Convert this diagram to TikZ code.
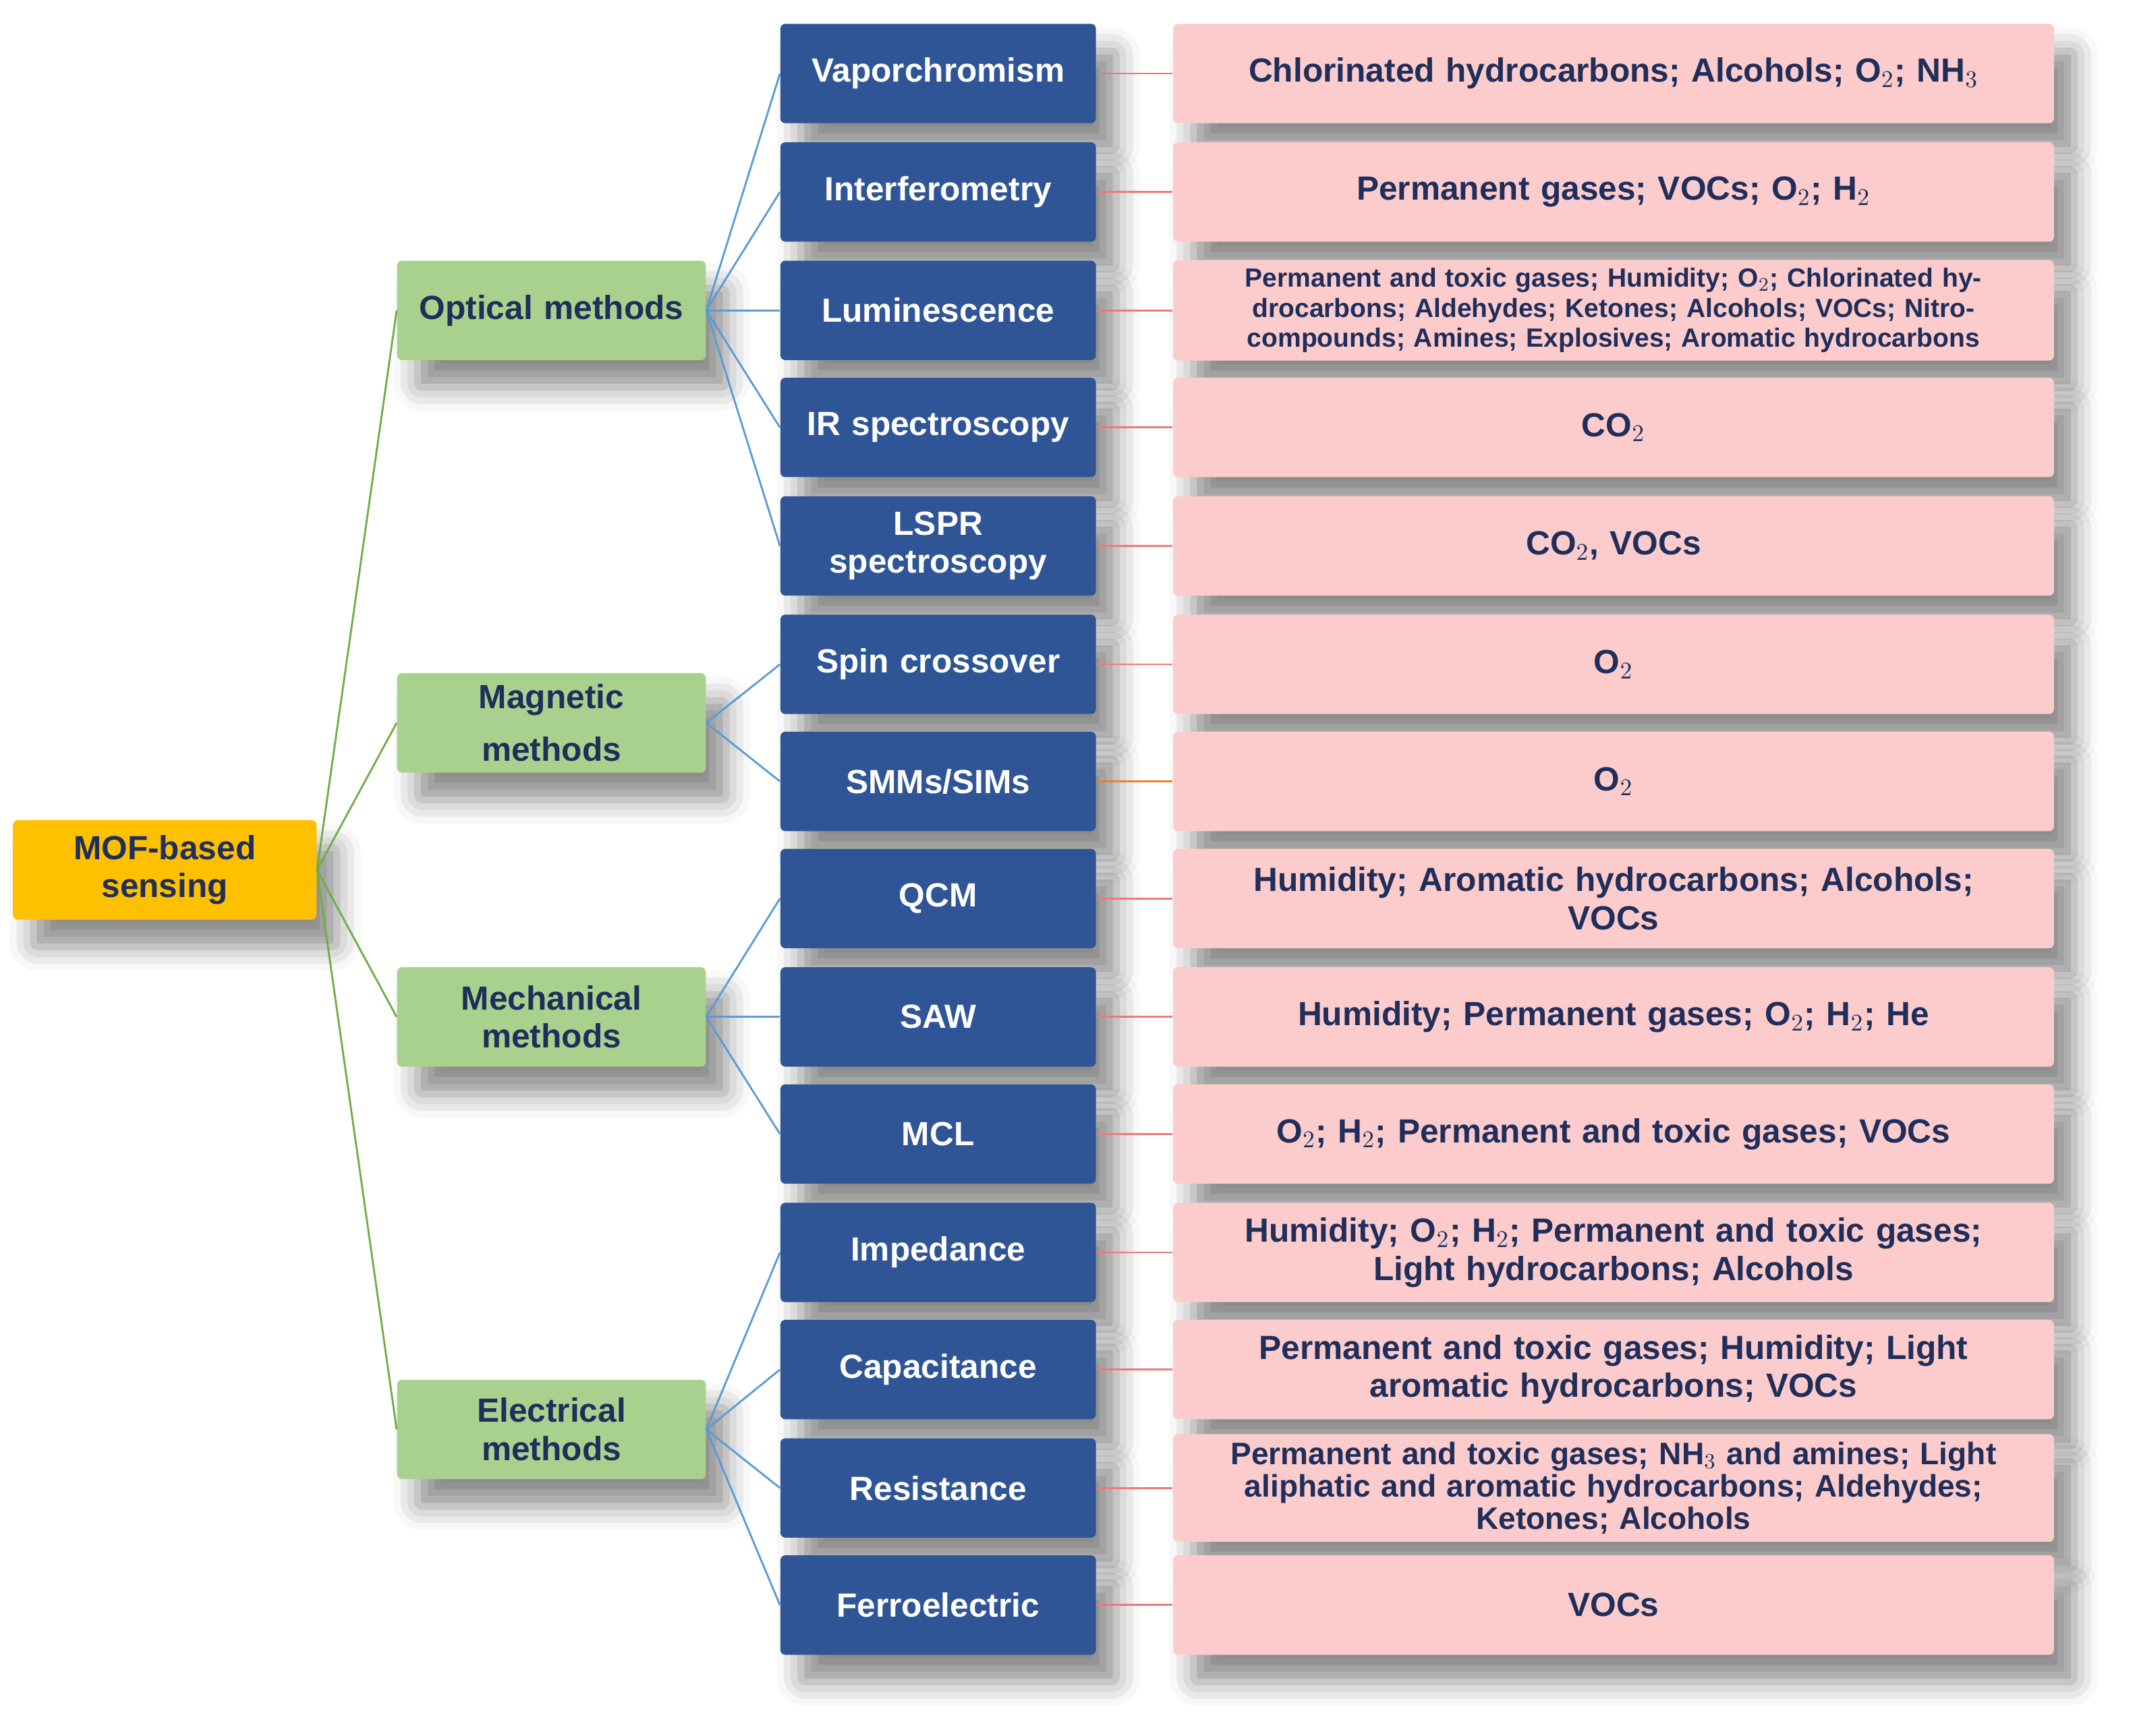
\documentclass[tikz,border=0pt]{standalone}
\usepackage{fontspec}
\setmainfont{Liberation Sans}
\usetikzlibrary{shadows.blur}
\definecolor{rootOrange}{RGB}{255,192,0}
\definecolor{methodGreen}{RGB}{169,209,142}
\definecolor{techBlue}{RGB}{47,85,151}
\definecolor{gasPink}{RGB}{252,204,204}
\definecolor{textNavy}{RGB}{31,46,90}
\definecolor{lineGreen}{RGB}{112,173,71}
\definecolor{lineBlue}{RGB}{91,155,213}
\definecolor{lineRed}{RGB}{240,120,122}
\definecolor{lineOrange}{RGB}{237,125,49}
\tikzset{
  box/.style={rectangle, rounded corners=2pt, minimum height=1.46cm, align=center,
    font=\fontsize{14}{16}\selectfont\bfseries,
    blur shadow={shadow xshift=0.3cm, shadow yshift=-0.4cm, shadow blur radius=0.35cm, shadow opacity=45}},
  root/.style={box, fill=rootOrange, text=textNavy, minimum width=4.46cm},
  method/.style={box, fill=methodGreen, text=textNavy, minimum width=4.48cm, text width=4.3cm},
  tech/.style={box, fill=techBlue, text=white, minimum width=4.48cm, text width=4.4cm},
  gas/.style={box, fill=gasPink, text=textNavy, minimum width=12.94cm, text width=12.6cm},
  small/.style={font=\fontsize{11}{12.5}\selectfont\bfseries},
  tight/.style={font=\fontsize{13}{13.5}\selectfont\bfseries},
}
\begin{document}
\begin{tikzpicture}[x=0.02cm, y=-0.02cm]
\useasboundingbox (0,0) rectangle (1568,1275);
% root and methods
\node[root] (mof) at (121,639) {MOF-based\\sensing};
\node[method] (opt) at (405,228) {Optical methods};
\node[method, align=center, font=\fontsize{14}{22}\selectfont\bfseries] (mag) at (405,531) {Magnetic\\methods};
\node[method] (mech) at (405,747) {Mechanical\\methods};
\node[method] (elec) at (405,1050) {Electrical\\methods};
% techniques
\node[tech] (t1) at (689,54) {Vaporchromism};
\node[tech] (t2) at (689,141) {Interferometry};
\node[tech] (t3) at (689,228) {Luminescence};
\node[tech] (t4) at (689,314) {IR spectroscopy};
\node[tech] (t5) at (689,401) {LSPR\\spectroscopy};
\node[tech] (t6) at (689,488) {Spin crossover};
\node[tech] (t7) at (689,574) {SMMs/SIMs};
\node[tech] (t8) at (689,660) {QCM};
\node[tech] (t9) at (689,747) {SAW};
\node[tech] (t10) at (689,833) {MCL};
\node[tech] (t11) at (689,920) {Impedance};
\node[tech] (t12) at (689,1006) {Capacitance};
\node[tech] (t13) at (689,1093) {Resistance};
\node[tech] (t14) at (689,1179) {Ferroelectric};
% analytes
\node[gas] (d1) at (1185,54) {Chlorinated hydrocarbons; Alcohols; O$_2$; NH$_3$};
\node[gas] (d2) at (1185,141) {Permanent gases; VOCs; O$_2$; H$_2$};
\node[gas, small] (d3) at (1185,228) {Permanent and toxic gases; Humidity; O$_2$; Chlorinated hydrocarbons; Aldehydes; Ketones; Alcohols; VOCs; Nitro-compounds; Amines; Explosives; Aromatic hydrocarbons};
\node[gas] (d4) at (1185,314) {CO$_2$};
\node[gas] (d5) at (1185,401) {CO$_2$, VOCs};
\node[gas] (d6) at (1185,488) {O$_2$};
\node[gas] (d7) at (1185,574) {O$_2$};
\node[gas] (d8) at (1185,660) {Humidity; Aromatic hydrocarbons; Alcohols;\\VOCs};
\node[gas] (d9) at (1185,747) {Humidity; Permanent gases; O$_2$; H$_2$; He};
\node[gas] (d10) at (1185,833) {O$_2$; H$_2$; Permanent and toxic gases; VOCs};
\node[gas] (d11) at (1185,920) {Humidity; O$_2$; H$_2$; Permanent and toxic gases;\\Light hydrocarbons; Alcohols};
\node[gas] (d12) at (1185,1006) {Permanent and toxic gases; Humidity; Light\\aromatic hydrocarbons; VOCs};
\node[gas, tight] (d13) at (1185,1093) {Permanent and toxic gases; NH$_3$ and amines; Light\\aliphatic and aromatic hydrocarbons; Aldehydes;\\Ketones; Alcohols};
\node[gas] (d14) at (1185,1179) {VOCs};
% connectors
\foreach \m in {opt,mag,mech,elec}
  \draw[lineGreen, thick] (mof.east) -- (\m.west);
\foreach \t in {1,...,5}
  \draw[lineBlue, thick] (opt.east) -- (t\t.west);
\foreach \t in {6,7}
  \draw[lineBlue, thick] (mag.east) -- (t\t.west);
\foreach \t in {8,9,10}
  \draw[lineBlue, thick] (mech.east) -- (t\t.west);
\foreach \t in {11,...,14}
  \draw[lineBlue, thick] (elec.east) -- (t\t.west);
\foreach \t in {1,...,6,8,9,10,11,12,13,14}
  \draw[lineRed, thick] (t\t.east) -- (d\t.west);
\draw[lineOrange, thick] (t7.east) -- (d7.west);
\end{tikzpicture}
\end{document}
